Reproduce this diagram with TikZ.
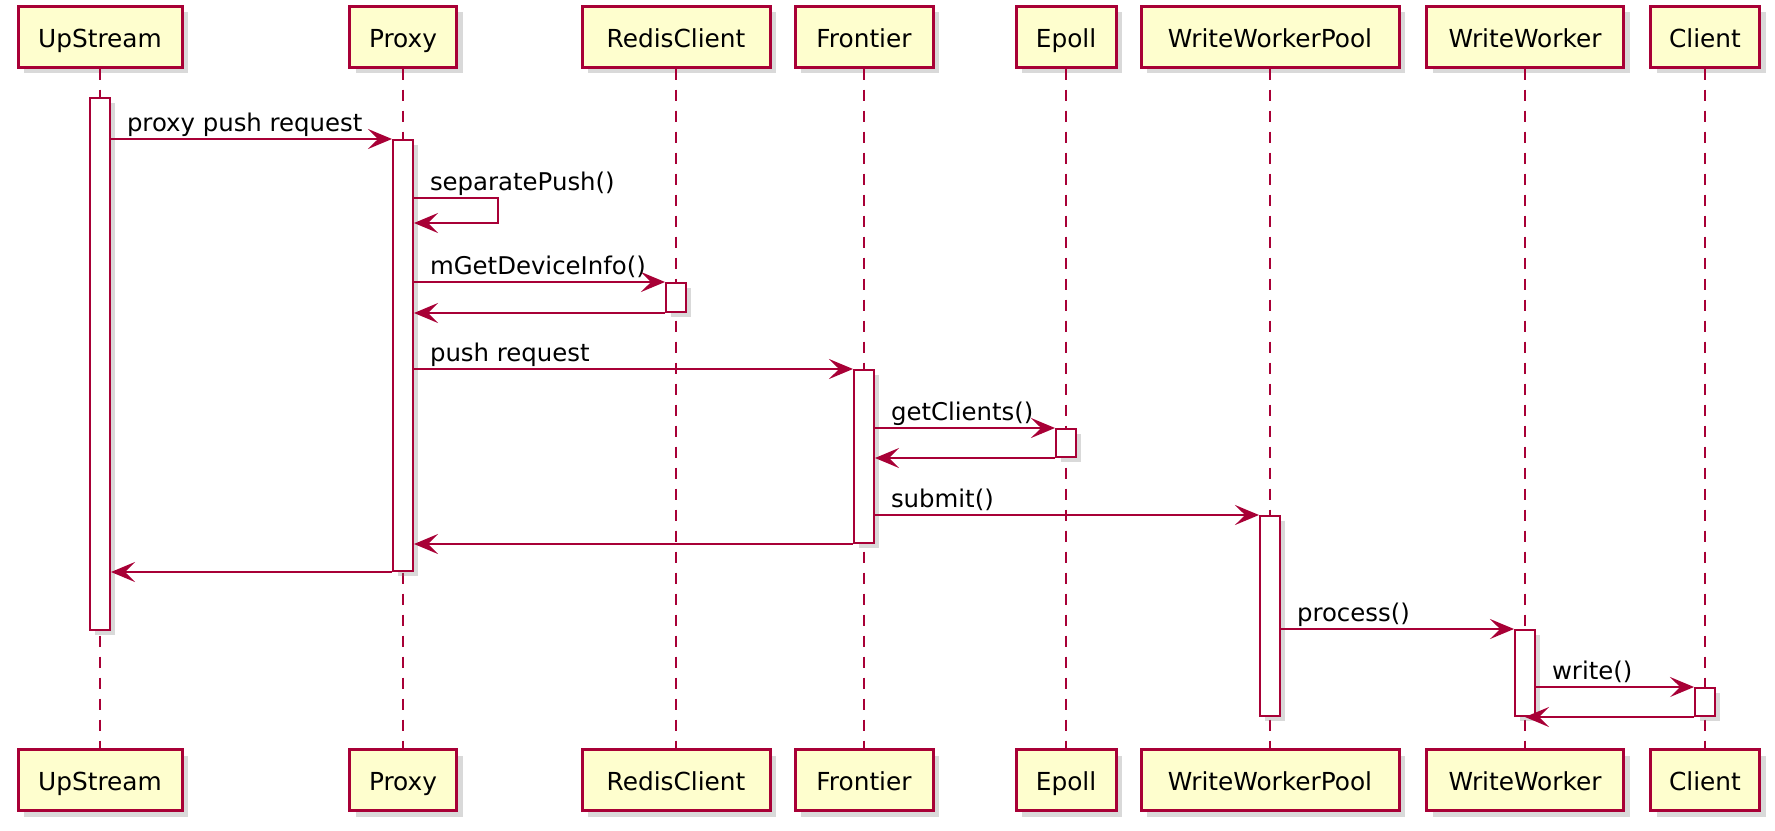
\documentclass[tikz,border=0pt]{standalone}
\usepackage{fontspec}
\setmainfont{DejaVu Sans}
\usepackage{xcolor}
\usepackage{tikz}
\usetikzlibrary{positioning,arrows.meta,shadows}
\definecolor{umlred}{HTML}{A80036}
\definecolor{umlfill}{HTML}{FEFECE}

\begin{document}
\begin{tikzpicture}[x=0.5pt,y=-0.5pt,
  part/.style={draw=umlred,line width=1.5pt,fill=umlfill,minimum height=30.5pt,inner xsep=4pt,
    text height=12.5pt,text depth=2pt,
    font=\fontsize{12.4}{15}\selectfont,drop shadow={shadow xshift=3pt,shadow yshift=-3pt,opacity=0.3}},
  life/.style={umlred,line width=1pt,dash pattern=on 5.5pt off 5pt},
  act/.style={draw=umlred,line width=1pt,fill=white,minimum width=10pt,inner sep=0pt,anchor=north,
    drop shadow={shadow xshift=2.5pt,shadow yshift=-2.5pt,opacity=0.3}},
  msg/.style={umlred,line width=1pt,-{Stealth[length=12pt,width=10pt,inset=5pt]}},
  lbl/.style={anchor=base west,inner xsep=0pt,xshift=7.5pt,yshift=4pt,text=black,font=\fontsize{12.2}{14}\selectfont}]
\useasboundingbox (0,0) rectangle (1775,830);

% Participants, top and bottom
\node[part,minimum width=82pt] (pUp) at (100,36.5) {UpStream};
\node[part,minimum width=53.5pt] (pPx) at (403,36.5) {Proxy};
\node[part,minimum width=94pt] (pRc) at (676,36.5) {RedisClient};
\node[part,minimum width=69pt] (pFr) at (864,36.5) {Frontier};
\node[part,minimum width=50pt] (pEp) at (1066,36.5) {Epoll};
\node[part,minimum width=129pt] (pWp) at (1270,36.5) {WriteWorkerPool};
\node[part,minimum width=98.5pt] (pWw) at (1525,36.5) {WriteWorker};
\node[part,minimum width=54.5pt] (pCl) at (1705,36.5) {Client};

\node[part,minimum width=82pt] (bUp) at (100,780) {UpStream};
\node[part,minimum width=53.5pt] (bPx) at (403,780) {Proxy};
\node[part,minimum width=94pt] (bRc) at (676,780) {RedisClient};
\node[part,minimum width=69pt] (bFr) at (864,780) {Frontier};
\node[part,minimum width=50pt] (bEp) at (1066,780) {Epoll};
\node[part,minimum width=129pt] (bWp) at (1270,780) {WriteWorkerPool};
\node[part,minimum width=98.5pt] (bWw) at (1525,780) {WriteWorker};
\node[part,minimum width=54.5pt] (bCl) at (1705,780) {Client};

% Lifelines
\draw[life] (pUp.south) -- (bUp.north);
\draw[life] (pPx.south) -- (bPx.north);
\draw[life] (pRc.south) -- (bRc.north);
\draw[life] (pFr.south) -- (bFr.north);
\draw[life] (pEp.south) -- (bEp.north);
\draw[life] (pWp.south) -- (bWp.north);
\draw[life] (pWw.south) -- (bWw.north);
\draw[life] (pCl.south) -- (bCl.north);

% Activation bars
\node[act,minimum height={(629-97)*0.5pt}] (aUp) at (pUp.south |- 0,97) {};
\node[act,minimum height={(570-139)*0.5pt}] (aPx) at (pPx.south |- 0,139) {};
\node[act,minimum height={(311-282)*0.5pt}] (aRc) at (pRc.south |- 0,282) {};
\node[act,minimum height={(542-369)*0.5pt}] (aFr) at (pFr.south |- 0,369) {};
\node[act,minimum height={(456-428)*0.5pt}] (aEp) at (pEp.south |- 0,428) {};
\node[act,minimum height={(715-515)*0.5pt}] (aWp) at (pWp.south |- 0,515) {};
\node[act,minimum height={(715-629)*0.5pt}] (aWw) at (pWw.south |- 0,629) {};
\node[act,minimum height={(715-687)*0.5pt}] (aCl) at (pCl.south |- 0,687) {};

% Messages
\coordinate (s1) at (498,198);
\coordinate (s2) at (498,223);
\draw[msg] (aUp.east |- aPx.north) -- (aPx.north west) node[lbl,pos=0] {proxy push request};
\draw[msg] (aPx.east |- s1) node[lbl] {separatePush()} -- (s1) -- (s2) -- (aPx.east |- s2);
\draw[msg] (aPx.east |- aRc.north) -- (aRc.north west) node[lbl,pos=0] {mGetDeviceInfo()};
\draw[msg] (aRc.south west) -- (aPx.east |- aRc.south);
\draw[msg] (aPx.east |- aFr.north) -- (aFr.north west) node[lbl,pos=0] {push request};
\draw[msg] (aFr.east |- aEp.north) -- (aEp.north west) node[lbl,pos=0] {getClients()};
\draw[msg] (aEp.south west) -- (aFr.east |- aEp.south);
\draw[msg] (aFr.east |- aWp.north) -- (aWp.north west) node[lbl,pos=0] {submit()};
\draw[msg] (aFr.south west) -- (aPx.east |- aFr.south);
\draw[msg] (aPx.south west) -- (aUp.east |- aPx.south);
\draw[msg] (aWp.east |- aWw.north) -- (aWw.north west) node[lbl,pos=0] {process()};
\draw[msg] (aWw.east |- aCl.north) -- (aCl.north west) node[lbl,pos=0] {write()};
\draw[msg] (aCl.south west) -- (aWw.south);
\end{tikzpicture}
\end{document}
